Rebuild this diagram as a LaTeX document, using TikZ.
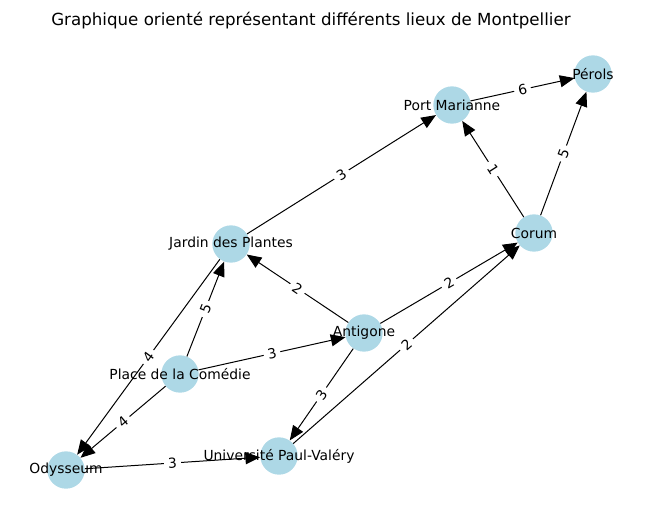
\documentclass[tikz,border=0pt]{standalone}
\usepackage{fontspec}
\setmainfont{DejaVu Sans}
\usetikzlibrary{arrows.meta}
\definecolor{lightblue}{RGB}{173,216,230}
\tikzset{
	lieu/.style={circle, fill=lightblue, minimum size=28pt, inner sep=0pt},
	nom/.style={font=\fontsize{10.4}{12}\selectfont, inner sep=0pt},
	route/.style={-{Triangle[length=11pt,width=9pt]}, line width=0.75pt},
	poids/.style={fill=white, rounded corners=2pt, inner xsep=3pt, inner ysep=2pt, font=\fontsize{10.4}{12}\selectfont, sloped, midway}
}

\begin{document}
\begin{tikzpicture}[x=0.75pt, y=-0.75pt]
	\useasboundingbox (0,0) rectangle (660,522);
	\node[anchor=base] (titre) at (311,25) {\fontsize{12.5}{15}\selectfont Graphique orienté représentant différents lieux de Montpellier};
	\node[lieu] (perols) at (593,74) {};
	\node[lieu] (pm) at (452,105) {};
	\node[lieu] (corum) at (534,233) {};
	\node[lieu] (jardin) at (231,244) {};
	\node[lieu] (antigone) at (364,333) {};
	\node[lieu] (comedie) at (180,374) {};
	\node[lieu] (odysseum) at (66,470) {};
	\node[lieu] (univ) at (279,456) {};
	\node[nom] at (perols) {Pérols};
	\node[nom] at (pm) {Port Marianne};
	\node[nom] at (corum) {Corum};
	\node[nom] at (jardin) {Jardin des Plantes};
	\node[nom] at (antigone) {Antigone};
	\node[nom] at (comedie) {Place de la Comédie};
	\node[nom] at (odysseum) {Odysseum};
	\node[nom] at (univ) {Université Paul-Valéry};
	\draw[route] (pm) -- node[poids] {6} (perols);
	\draw[route] (corum) -- node[poids] {1} (pm);
	\draw[route] (corum) -- node[poids] {5} (perols);
	\draw[route] (jardin) -- node[poids] {3} (pm);
	\draw[route] (antigone) -- node[poids] {2} (jardin);
	\draw[route] (antigone) -- node[poids] {2} (corum);
	\draw[route] (antigone) -- node[poids] {3} (univ);
	\draw[route] (univ) -- node[poids] {2} (corum);
	\draw[route] (comedie) -- node[poids] {3} (antigone);
	\draw[route] (comedie) -- node[poids] {5} (jardin);
	\draw[route] (comedie) -- node[poids] {4} (odysseum);
	\draw[route] (jardin) -- node[poids] {4} (odysseum);
	\draw[route] (odysseum) -- node[poids] {3} (univ);
\end{tikzpicture}
\end{document}
